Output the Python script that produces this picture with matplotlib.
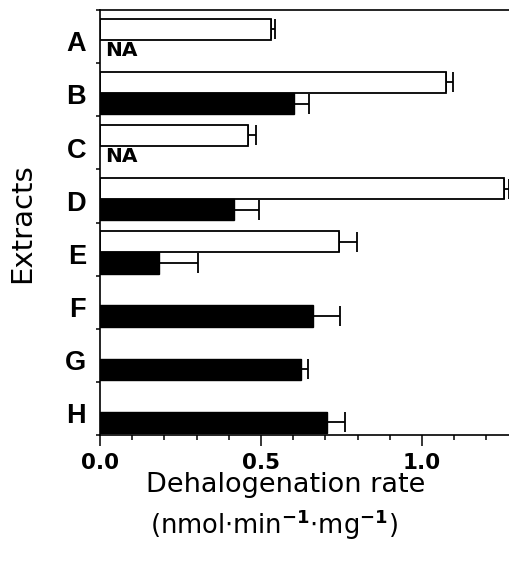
#dehal.py

#dehalogenation rates of the extracts, open and filled bars

import numpy as np;
import matplotlib.pyplot as plt;
from matplotlib.ticker import MultipleLocator;

plt.rcParams['font.family'] = ['DejaVu Sans'];
plt.rcParams['mathtext.fontset'] = 'dejavusans';

cats = ['A', 'B', 'C', 'D', 'E', 'F', 'G', 'H'];
nan = np.nan;
open_val = [0.53, 1.075, 0.46, 1.255, 0.743, nan, nan, nan];
open_err = [0.012, 0.02, 0.024, 0.015, 0.054, nan, nan, nan];
fill_val = [nan, 0.603, nan, 0.416, 0.183, 0.660, 0.624, 0.706];
fill_err = [nan, 0.046, nan, 0.079, 0.122, 0.085, 0.023, 0.055];
na_text = 'NA';

pos = np.arange(len(cats));
ov = np.array(open_val); oe = np.array(open_err);
fv = np.array(fill_val); fe = np.array(fill_err);
mo = ~np.isnan(ov);
mf = ~np.isnan(fv);

fig = plt.figure(figsize=(5.09, 5.62), dpi=100);
ax = fig.add_axes([100/509, 1-435/562, 409/509, 425/562]);

h = 0.4;
ax.barh(pos[mo] - 0.14, ov[mo], height=h, color='white', edgecolor='black', linewidth=1.3, zorder=2);
ax.barh(pos[mf] + 0.26, fv[mf], height=h, color='black', edgecolor='black', linewidth=1.0, zorder=2);
ax.errorbar(ov[mo], pos[mo] - 0.14, xerr=[np.zeros(mo.sum()), oe[mo]], fmt='none',
            ecolor='black', elinewidth=1.3, capsize=7.5, capthick=1.3, zorder=1);
ax.errorbar(fv[mf], pos[mf] + 0.26, xerr=[np.zeros(mf.sum()), fe[mf]], fmt='none',
            ecolor='black', elinewidth=1.3, capsize=7.5, capthick=1.3, zorder=1);

# NA where no filled bar
for i in pos[~mf]:
    ax.text(0.015, i + 0.26, na_text, fontsize=14.5, fontweight='bold', va='center', ha='left');

ax.set_xlim(0, 1.27);
ax.set_ylim(7.5, -0.5);
ax.set_xticks([0.0, 0.5, 1.0]);
ax.set_xticklabels(['0.0', '0.5', '1.0'], fontsize=15.5, fontweight='bold');
ax.xaxis.set_minor_locator(MultipleLocator(0.1));
ax.tick_params(axis='x', which='major', direction='out', length=8, width=1.1, pad=5);
ax.tick_params(axis='x', which='minor', direction='out', length=3.6, width=1.1);

ax.set_yticks(pos + 0.09);
ax.set_yticklabels(cats, fontsize=19.5, fontweight='bold', family='Liberation Sans');
ax.set_yticks(np.arange(-0.5, 8.0, 1.0), minor=True);
ax.tick_params(axis='y', which='major', length=0, pad=10);
ax.tick_params(axis='y', which='minor', direction='out', length=3, width=1.1);

ax.spines['right'].set_visible(False);
for s in ['top', 'left', 'bottom']:
    ax.spines[s].set_linewidth(1.2);

fig.text(285.5/509, 1-485/562, 'Dehalogenation rate', fontsize=19.5, ha='center', va='center');
fig.text(273.5/509, 1-525/562, r'(nmol$\cdot$min$^{\mathbf{-1}}$$\cdot$mg$^{\mathbf{-1}}$)',
         fontsize=18.5, ha='center', va='center');
fig.text(22/509, 1-223/562, 'Extracts', fontsize=21, rotation=90, ha='center', va='center');

plt.savefig('out.png', dpi=100);
